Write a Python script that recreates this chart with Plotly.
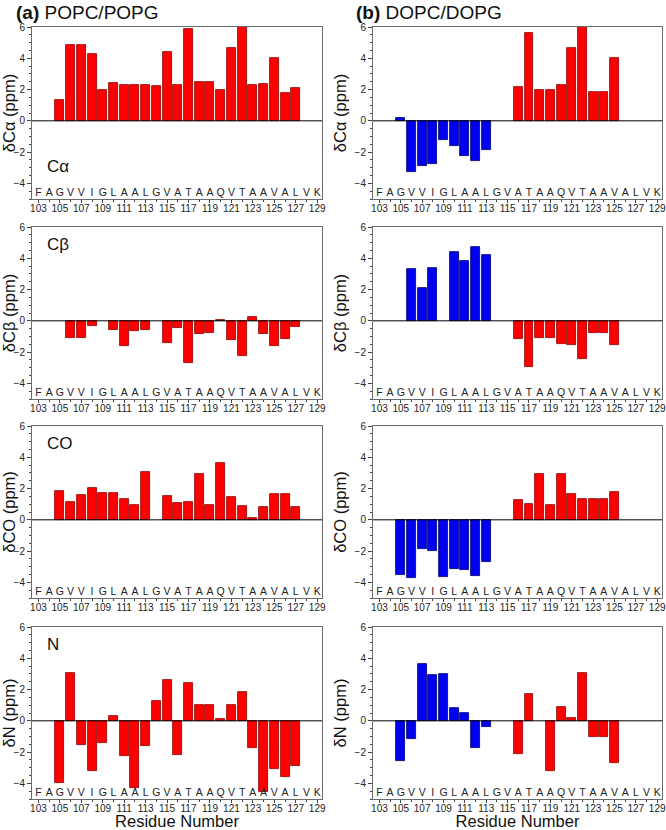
import plotly.graph_objects as go

residues = list(range(103, 130))
sequence = list("FAGVVIGLAALGVATAAQVTAAVALVK")

# (a) POPC/POPG
popc_ca = [None, None, 1.30, 4.87, 4.87, 4.29, 1.99, 2.39, 2.26, 2.26, 2.29, 2.20, 4.37, 2.26,
           5.88, 2.47, 2.47, 1.99, 4.66, 6.28, 2.26, 2.36, 4.04, 1.76, 2.08, None, None]
popc_cb = [None, None, None, -1.12, -1.12, -0.34, None, -0.58, -1.59, -0.67, -0.58, None, -1.42, -0.45,
           -2.67, -0.86, -0.77, 0.08, -1.23, -2.26, 0.26, -0.86, -1.61, -1.16, -0.37, None, None]
popc_co = [None, None, 1.84, 1.16, 1.56, 2.06, 1.71, 1.71, 1.35, 0.94, 3.04, None, 1.54, 1.05,
           1.11, 2.96, 0.94, 3.64, 1.46, 0.90, 0.13, 0.84, 1.63, 1.63, 0.81, None, None]
popc_n = [None, None, -3.96, 3.03, -1.57, -3.18, -1.44, 0.32, -2.23, -4.32, -1.59, 1.27, 2.63, -2.20,
          2.44, 0.98, 0.98, 0.11, 1.02, 1.84, -1.72, -4.54, -3.07, -3.60, -2.88, None, None]

# (b) DOPC/DOPG
dopc_ca = [None, None, 0.19, -3.29, -2.88, -2.75, -1.22, -1.64, -2.26, -2.56, -1.86, None, None, 2.16,
           5.59, 1.96, 1.96, 2.26, 4.66, 6.10, 1.86, 1.86, 4.04, None, None, None, None]
dopc_cb = [None, None, None, 3.33, 2.13, 3.40, None, 4.39, 3.81, 4.71, 4.19, None, None, -1.18,
           -2.97, -1.08, -1.08, -1.46, -1.55, -2.47, -0.77, -0.77, -1.53, None, None, None, None]
dopc_co = [None, None, -3.54, -3.71, -1.89, -1.99, -3.64, -3.13, -3.24, -3.62, -2.72, None, None, 1.24,
           1.01, 2.96, 0.92, 2.91, 1.63, 1.31, 1.35, 1.35, 1.76, None, None, None, None]
dopc_n = [None, None, -2.54, -1.17, 3.65, 2.95, 2.97, 0.81, 0.49, -1.72, -0.38, None, None, -2.12,
          1.74, None, -3.22, 0.91, 0.15, 3.03, -1.02, -1.02, -2.69, None, None, None, None]

# Residues up to this one are drawn blue in panel (b)
blue_last_residue = 114

nuclei = ["Cα", "Cβ", "CO", "N"]
ytitles = ["δCα (ppm)", "δCβ (ppm)", "δCO (ppm)", "δN (ppm)"]
left_series = [popc_ca, popc_cb, popc_co, popc_n]
right_series = [dopc_ca, dopc_cb, dopc_co, dopc_n]

W, H = 666, 830
col_px = [(32, 322), (373, 662)]
row_px = [(27, 199), (227, 399), (426, 598), (627, 799)]


def px_x(p):
    return min(1.0, p / W)


def px_y(p):
    return 1 - p / H


RED, RED_EDGE = "#FF0000", "#8A0000"
BLUE, BLUE_EDGE = "#0000F0", "#00006A"
FONT = "Liberation Sans, Arial, sans-serif"

fig = go.Figure()
layout = {}
idx = 0
for r in range(4):
    for c in range(2):
        idx += 1
        xa = "x" if idx == 1 else f"x{idx}"
        ya = "y" if idx == 1 else f"y{idx}"
        vals = left_series[r] if c == 0 else right_series[r]
        if c == 0:
            colors = [RED] * len(residues)
            edges = [RED_EDGE] * len(residues)
        else:
            colors = [BLUE if res <= blue_last_residue else RED for res in residues]
            edges = [BLUE_EDGE if res <= blue_last_residue else RED_EDGE for res in residues]
        fig.add_trace(go.Bar(x=residues, y=vals, xaxis=xa, yaxis=ya, width=0.84,
                             marker=dict(color=colors, line=dict(color=edges, width=0.8)),
                             showlegend=False, hoverinfo="x+y"))
        fig.add_trace(go.Scatter(x=residues, y=[-4.62] * len(residues), xaxis=xa, yaxis=ya,
                                 mode="text", text=sequence,
                                 textfont=dict(family=FONT, size=10.5, color="#222"),
                                 showlegend=False, hoverinfo="skip"))
        x0, x1 = col_px[c]
        y0, y1 = row_px[r]
        axcommon = dict(showline=True, linecolor="#6b6b6b", linewidth=1, mirror=True,
                        showgrid=False, zeroline=False, ticks="outside", automargin=False,
                        tickfont=dict(family=FONT, size=10, color="#222"))
        layout["xaxis" if idx == 1 else f"xaxis{idx}"] = dict(
            axcommon, domain=[px_x(x0), px_x(x1)], anchor=ya, range=[102.4, 129.45],
            tickmode="linear", tick0=103, dtick=2, ticklen=3, tickcolor="#444",
            ticklabelstandoff=-3,
            minor=dict(dtick=1, ticklen=2, tickcolor="#444", ticks="outside"),
            title=dict(text="Residue Number" if r == 3 else "",
                       font=dict(family=FONT, size=16.5, color="#111"), standoff=8))
        layout["yaxis" if idx == 1 else f"yaxis{idx}"] = dict(
            axcommon, domain=[px_y(y1), px_y(y0)], anchor=xa, range=[-5, 6],
            tickmode="array", tickvals=[-4, -2, 0, 2, 4, 6], ticklen=4, tickcolor="#444",
            minor=dict(dtick=0.5, ticklen=2, tickcolor="#444", ticks="outside"),
            title=dict(text=ytitles[r], font=dict(family=FONT, size=16.5, color="#111"), standoff=3))
        fig.add_shape(type="line", xref=xa, yref=ya, x0=102.4, x1=129.45, y0=0, y1=0,
                      line=dict(color="#000", width=1))

annotations = []
label_y = [-2.9, 4.9, 4.9, 4.9]
for r in range(4):
    xa = "x" if r == 0 else f"x{2 * r + 1}"
    ya = "y" if r == 0 else f"y{2 * r + 1}"
    annotations.append(dict(x=103.6, y=label_y[r], xref=xa, yref=ya, text=nuclei[r],
                            showarrow=False, xanchor="left", yanchor="middle",
                            font=dict(family=FONT, size=17, color="#111")))
annotations.append(dict(x=px_x(14), y=px_y(12), xref="paper", yref="paper",
                        text="<b>(a)</b> POPC/POPG", showarrow=False, xanchor="left",
                        yanchor="middle", font=dict(family=FONT, size=19, color="#111")))
annotations.append(dict(x=px_x(354), y=px_y(12), xref="paper", yref="paper",
                        text="<b>(b)</b> DOPC/DOPG", showarrow=False, xanchor="left",
                        yanchor="middle", font=dict(family=FONT, size=19, color="#111")))

fig.update_layout(width=W, height=H, margin=dict(l=0, r=0, t=0, b=0, autoexpand=False),
                  plot_bgcolor="white", paper_bgcolor="white", bargap=0,
                  annotations=annotations, **layout)
fig.write_html("out.html", config={"displayModeBar": False},
               post_script="document.body.style.margin='0';")
